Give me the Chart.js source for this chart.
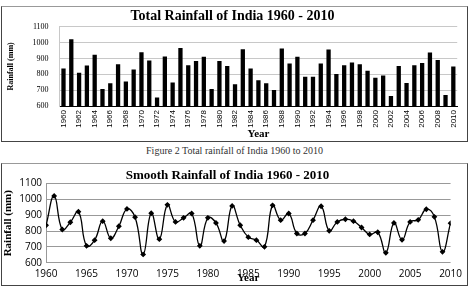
<!DOCTYPE html>
<html><head><meta charset="utf-8">
<script src="https://cdn.jsdelivr.net/npm/chart.js@4"></script>
<style>
html,body{margin:0;padding:0;background:#fff;width:469px;height:289px;overflow:hidden;}
.frame{position:absolute;box-sizing:border-box;border:1px solid #444;border-top-color:#999;}
#f1{left:1px;top:6px;width:467px;height:136px;}
#f2{left:1px;top:163px;width:467px;height:123px;}
canvas{display:block;}
#cap{position:absolute;left:0;top:145px;width:469px;text-align:center;font:10px "Liberation Serif",serif;color:#333;}
</style></head><body>
<div class="frame" id="f1"><canvas id="c1" width="465" height="134"></canvas></div>
<div id="cap">Figure 2 Total rainfall of India 1960 to 2010</div>
<div class="frame" id="f2"><canvas id="c2" width="465" height="121"></canvas></div>
<script>
const years = [1960,1961,1962,1963,1964,1965,1966,1967,1968,1969,1970,1971,1972,1973,1974,1975,1976,1977,1978,1979,1980,1981,1982,1983,1984,1985,1986,1987,1988,1989,1990,1991,1992,1993,1994,1995,1996,1997,1998,1999,2000,2001,2002,2003,2004,2005,2006,2007,2008,2009,2010];
const rainfall = [837,1022,810,856,923,707,743,863,755,831,940,888,653,913,749,966,858,884,911,707,884,852,737,959,837,762,743,701,963,869,911,785,785,869,957,802,858,875,863,823,779,793,663,852,745,858,871,938,890,669,850];
const yTicks = [600,700,800,900,1000,1100];
const title1 = 'Total Rainfall of India 1960 - 2010';
const title2 = 'Smooth Rainfall of India 1960 - 2010';
const yLabel = 'Rainfall (mm)';
const xLabel = 'Year';

Chart.defaults.animation = false;
Chart.defaults.color = '#000';

new Chart(document.getElementById('c1'), {
  type: 'bar',
  data: { labels: years.map(String), datasets: [{ data: rainfall, backgroundColor: '#000', barPercentage: 0.55, categoryPercentage: 1 }] },
  options: {
    responsive: false,
    layout: { padding: { left: 4, right: 8, top: 0, bottom: 0 } },
    plugins: {
      legend: { display: false }, tooltip: { enabled: false },
      title: { display: true, text: title1, font: { family: 'Liberation Serif', size: 14, weight: 'bold' }, padding: { top: 1, bottom: 2 } }
    },
    scales: {
      x: {
        afterFit: s => { s.height = 35; },
        grid: { display: false, drawTicks: false },
        border: { color: '#000' },
        ticks: { autoSkip: false, maxRotation: 90, minRotation: 90, padding: 4,
          font: { family: 'Liberation Sans', size: 8 },
          callback: function(v, i) { return i % 2 === 0 ? this.getLabelForValue(v) : ''; } },
        title: { display: true, text: xLabel, font: { family: 'Liberation Serif', size: 11, weight: 'bold' }, padding: { top: 0, bottom: 0 } }
      },
      y: {
        min: 600, max: 1100,
        afterBuildTicks: s => { s.ticks = yTicks.map(v => ({ value: v })); },
        grid: { color: '#c8c8c8', drawTicks: false },
        border: { color: '#c8c8c8' },
        ticks: { autoSkip: false, padding: 11, font: { family: 'Liberation Serif', size: 8 }, callback: v => String(v) },
        title: { display: true, text: yLabel, font: { family: 'Liberation Serif', size: 8, weight: 'bold' }, padding: { top: 0, bottom: 6 } }
      }
    }
  }
});

new Chart(document.getElementById('c2'), {
  type: 'line',
  data: { datasets: [{ data: years.map((y, i) => ({ x: y, y: rainfall[i] })), borderColor: '#000', borderWidth: 1.3,
    tension: 0.45, pointStyle: 'rectRot', pointRadius: 2, pointBackgroundColor: '#000', pointBorderColor: '#000' }] },
  options: {
    responsive: false,
    layout: { padding: { left: 0, right: 14, top: 0, bottom: 0 } },
    plugins: {
      legend: { display: false }, tooltip: { enabled: false },
      title: { display: true, text: title2, font: { family: 'Liberation Serif', size: 13, weight: 'bold' }, padding: { top: 4, bottom: 0 } }
    },
    scales: {
      x: {
        type: 'linear', min: 1960, max: 2010,
        grid: { display: false, drawTicks: false },
        border: { display: false },
        ticks: { stepSize: 5, padding: 5, font: { family: 'Open Sans', size: 10 }, callback: v => String(v) },
        title: { display: true, text: xLabel, font: { family: 'Liberation Serif', size: 11, weight: 'bold' }, padding: { top: -13, bottom: 0 } }
      },
      y: {
        min: 600, max: 1100,
        afterBuildTicks: s => { s.ticks = yTicks.map(v => ({ value: v })); },
        grid: { color: '#999', drawTicks: false },
        border: { color: '#999' },
        ticks: { autoSkip: false, padding: 4, font: { family: 'Open Sans', size: 10 }, callback: v => String(v) },
        title: { display: true, text: yLabel, font: { family: 'Liberation Serif', size: 11, weight: 'bold' }, padding: { top: 0, bottom: 0 } }
      }
    }
  }
});
</script>
</body></html>
